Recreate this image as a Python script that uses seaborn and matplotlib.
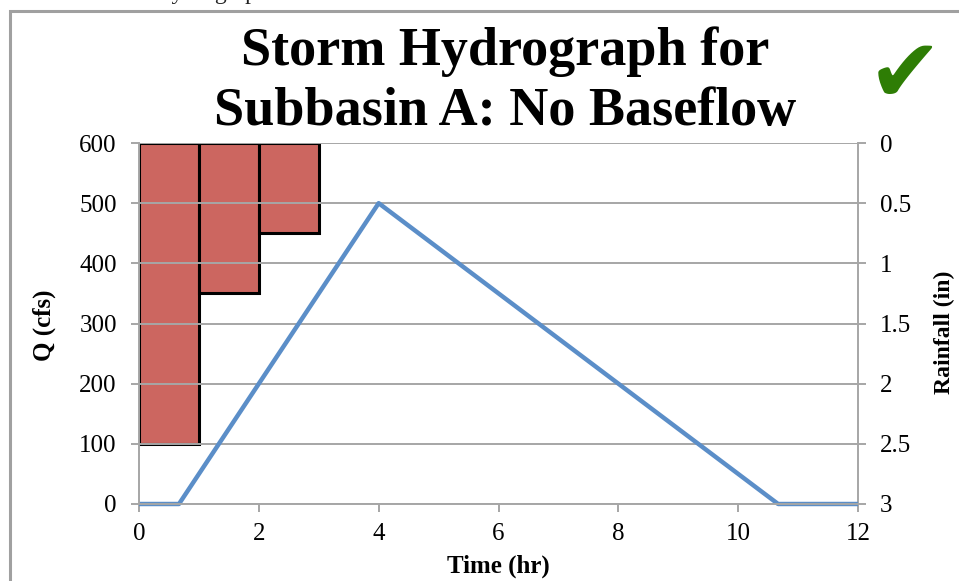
import matplotlib
matplotlib.use("Agg")
import matplotlib.pyplot as plt
import seaborn as sns
import pandas as pd
from matplotlib.patches import Rectangle

# Data
time_hr = [0, 0.667, 4, 10.667, 12]
flow_cfs = [0, 0, 500, 0, 0]
rain_time_mid = [0.5, 1.5, 2.5]
rain_in = [2.5, 1.25, 0.75]
q_ticks = [0, 100, 200, 300, 400, 500, 600]
rain_ticks = [0, 0.5, 1, 1.5, 2, 2.5, 3]
rain_tick_labels = ["0", "0.5", "1", "1.5", "2", "2.5", "3"]
x_ticks = [0, 2, 4, 6, 8, 10, 12]

sns.set_theme(style="white")
serif = ["Liberation Serif", "DejaVu Serif"]
plt.rcParams["font.family"] = serif
plt.rcParams["text.color"] = "black"
plt.rcParams["xtick.color"] = "black"
plt.rcParams["ytick.color"] = "black"

fig = plt.figure(figsize=(9.59, 5.81), dpi=100)
ax = fig.add_axes([139/959, 1-504/581, (858-139)/959, (504-143)/581])
ax.set_facecolor("none")
ax2 = ax.twinx()

grid_c = "#a6a6a6"
line_c = "#5b8ec8"
bar_c = "#cc6660"

ax.set_ylim(0, 600)
ax.set_xlim(0, 12)
ax.set_yticks(q_ticks)
ax.set_xticks(x_ticks)
ax.grid(axis="y", color=grid_c, linewidth=1.4)
ax.set_axisbelow(True)

# Rainfall bars on secondary (inverted) axis
df_r = pd.DataFrame({"t": rain_time_mid, "r": rain_in})
sns.barplot(data=df_r, x="t", y="r", native_scale=True, width=1.0, ax=ax2,
            color=bar_c, saturation=1, edgecolor="black", linewidth=2.2)
ax2.set_ylim(3, 0)
ax2.set_xlim(0, 12)
ax2.set_yticks(rain_ticks)
ax2.set_yticklabels(rain_tick_labels)

# Hydrograph line
df_q = pd.DataFrame({"t": time_hr, "q": flow_cfs})
ax.set_zorder(ax2.get_zorder() + 1)
sns.lineplot(data=df_q, x="t", y="q", ax=ax, color=line_c, linewidth=3.2,
             solid_capstyle="butt", clip_on=False)
ax.set_ylim(0, 600)
ax.set_xlim(0, 12)
ax.set_xlabel("")
ax.set_ylabel("")
ax2.set_xlabel("")
ax2.set_ylabel("")

for a in (ax, ax2):
    for s in a.spines.values():
        s.set_visible(False)
ax.spines["left"].set_visible(True)
ax.spines["bottom"].set_visible(True)
ax2.spines["right"].set_visible(True)
for a, sp in ((ax, "left"), (ax, "bottom"), (ax2, "right")):
    a.spines[sp].set_color(grid_c)
    a.spines[sp].set_linewidth(1.4)

ax.tick_params(axis="both", which="both", direction="out", length=6, width=1.4,
               color=grid_c, labelcolor="black", labelsize=18, pad=8,
               left=True, bottom=True)
ax.tick_params(axis="y", pad=10)
ax2.tick_params(axis="y", direction="out", length=6, width=1.4, color=grid_c,
                labelcolor="black", labelsize=18, pad=10, right=True)
ax2.tick_params(axis="x", bottom=False, labelbottom=False)
for lab in ax.get_xticklabels() + ax.get_yticklabels() + ax2.get_yticklabels():
    lab.set_fontfamily(serif)

fig.text(44/959, 1-325/581, "Q (cfs)", rotation=90, ha="center", va="center",
         fontsize=18, fontweight="bold", family=serif, color="black")
fig.text(944/959, 1-332/581, "Rainfall (in)", rotation=90, ha="center", va="center",
         fontsize=17, fontweight="bold", family=serif, color="black")
fig.text(498/959, 1-566/581, "Time (hr)", ha="center", va="center",
         fontsize=18, fontweight="bold", family=serif, color="black")

fig.text(505/959, 1-52/581, "Storm Hydrograph for",
         ha="center", va="center", fontsize=39, fontweight="bold",
         family=serif, color="black")
fig.text(505/959, 1-112/581, "Subbasin A: No Baseflow",
         ha="center", va="center", fontsize=39, fontweight="bold",
         family=serif, color="black")

# check mark
fig.text(905/959, 1-78/581, "\u2714", ha="center", va="center", fontsize=64,
         color="#2e7d05", family=["DejaVu Sans"])

# frame
fig.patches.append(Rectangle((10/959, -0.1), 1.2, 1-11/581+0.1,
                             transform=fig.transFigure, fill=False,
                             edgecolor="#a0a0a0", linewidth=2.2))
# cut-off text above frame
fig.text(100/959, 1+1/581, "storm hydrograph", ha="left", va="baseline",
         fontsize=17, family=serif, color="#222222")

fig.savefig("out.png", dpi=100)
